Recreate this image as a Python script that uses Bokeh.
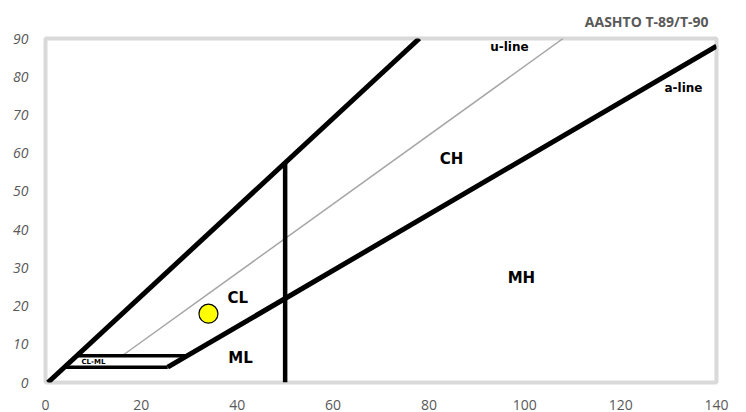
from bokeh.plotting import figure
from bokeh.models import Range1d, FixedTicker
from bokeh.core.properties import value
from bokeh.embed import file_html
from bokeh.resources import INLINE

# Boundary lines (liquid limit, plasticity index)
upper_ll = [0.5, 78]
upper_pi = [0, 90]
u_ll = [16, 108]
u_pi = [7, 90]
a_ll = [25.5, 140]
a_pi = [4, 88]
vert_ll = [50, 50]
vert_pi = [0, 57.7]
clml_low_ll = [3.9, 25.5]
clml_low_pi = [4, 4]
clml_up_ll = [6.5, 29.6]
clml_up_pi = [7, 7]

# Sample point
sample_ll = [34]
sample_pi = [18]

# Zone labels
zone_text = ["CL", "ML", "CH", "MH"]
zone_ll = [40.1, 40.7, 84.7, 99.3]
zone_pi = [22.2, 6.5, 58.4, 27.4]
line_text = ["u-line", "a-line"]
line_ll = [96.8, 133.1]
line_pi = [87.7, 77.1]
small_text = ["CL-ML"]
small_ll = [10.0]
small_pi = [5.4]

title_text = "AASHTO T-89/T-90"
x_ticks = [0, 20, 40, 60, 80, 100, 120, 140]
y_ticks = [0, 10, 20, 30, 40, 50, 60, 70, 80, 90]

p = figure(width=746, height=412, output_backend="svg", toolbar_location=None,
           x_range=Range1d(0, 140), y_range=Range1d(0, 90),
           min_border_left=45, min_border_right=30, min_border_top=38, min_border_bottom=26,
           title=title_text)
p.title.align = "right"
p.title.offset = 8
p.title.standoff = 16
p.title.text_font = "Open Sans"
p.title.text_font_style = "bold"
p.title.text_font_size = "14px"
p.title.text_color = "#595959"

p.outline_line_color = "#d9d9d9"
p.outline_line_width = 4
p.xgrid.visible = False
p.ygrid.visible = False
p.background_fill_color = "white"
p.border_fill_color = "white"

for ax in (p.xaxis[0], p.yaxis[0]):
    ax.axis_line_color = None
    ax.major_tick_line_color = None
    ax.minor_tick_line_color = None
    ax.major_label_text_color = "#595959"
    ax.major_label_text_font = "Open Sans"
    ax.major_label_text_font_size = "14px"
p.xaxis[0].ticker = FixedTicker(ticks=x_ticks)
p.yaxis[0].ticker = FixedTicker(ticks=y_ticks)
p.yaxis[0].major_label_text_font_style = "italic"
p.xaxis[0].major_label_standoff = 11
p.yaxis[0].major_label_standoff = 11

p.line(u_ll, u_pi, line_color="#a6a6a6", line_width=1.5)
p.line(upper_ll, upper_pi, line_color="black", line_width=5)
p.line(a_ll, a_pi, line_color="black", line_width=5)
p.line(vert_ll, vert_pi, line_color="black", line_width=4.5)
p.line(clml_low_ll, clml_low_pi, line_color="black", line_width=3.5)
p.line(clml_up_ll, clml_up_pi, line_color="black", line_width=3.5)

p.scatter(sample_ll, sample_pi, size=19, fill_color="#ffff00", line_color="black", line_width=1.2)

p.text(zone_ll, zone_pi, text=zone_text, text_font=value("DejaVu Sans"), text_font_style="bold",
       text_font_size="15px", text_align="center", text_baseline="middle", text_color="black")
p.text(line_ll, line_pi, text=line_text, text_font=value("DejaVu Sans"), text_font_style="bold",
       text_font_size="12px", text_align="center", text_baseline="middle", text_color="black")
p.text(small_ll, small_pi, text=small_text, text_font=value("DejaVu Sans"), text_font_style="bold",
       text_font_size="7px", text_align="center", text_baseline="middle", text_color="black")

open("out.html", "w").write(file_html(p, INLINE))
